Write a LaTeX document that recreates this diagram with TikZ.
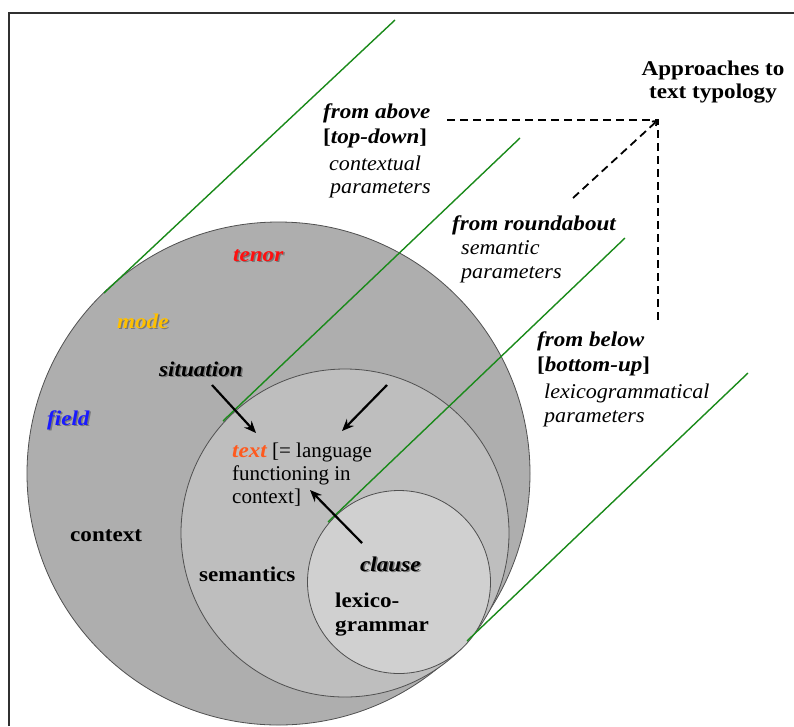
\documentclass[tikz,border=0pt]{standalone}
\usepackage{fontspec}
\setmainfont{Liberation Serif}[BoldFeatures={FakeStretch=1.1},ItalicFeatures={FakeStretch=1.05},BoldItalicFeatures={FakeStretch=1.1}]
\usetikzlibrary{arrows.meta}
\definecolor{ctxgray}{HTML}{AEAEAE}
\definecolor{semgray}{HTML}{BEBEBE}
\definecolor{lexgray}{HTML}{D0D0D0}
\definecolor{rimgray}{HTML}{505050}
\definecolor{tangreen}{HTML}{1A8A1A}
\definecolor{shadowgray}{HTML}{787878}
\definecolor{tenorred}{HTML}{FF1010}
\definecolor{modegold}{HTML}{FFC000}
\definecolor{fieldblue}{HTML}{1A1AFF}
\definecolor{textorange}{HTML}{FF5A1E}
\definecolor{framecol}{HTML}{303030}
\newcommand\fsz{\fontsize{21}{24}\selectfont}
\newcommand\shtext[5]{%
  \node[lbl,text=shadowgray,font=\fsz\bfseries\itshape] at ([xshift=1.5pt,yshift=-1.5pt]#1) {#3};
  \node[lbl,text=#2,font=\fsz\bfseries\itshape] (#4) at (#1) {#3};}
\begin{document}
\begin{tikzpicture}[x=1pt,y=-1pt,
  lbl/.style={inner sep=0pt,anchor=base west,font=\fsz},
  disc/.style={draw=rimgray,line width=0.8pt},
  tanline/.style={draw=tangreen,line width=1.4pt},
  pointer/.style={draw=black,line width=2.2pt,-{Stealth[length=12pt,width=10pt,inset=4pt]}},
  dashline/.style={draw=black,line width=1.8pt,dash pattern=on 8pt off 5pt}]
\useasboundingbox (0,0) rectangle (794,726);
\fill[white] (0,0) rectangle (794,726);
% discs
\filldraw[disc,fill=ctxgray] (278.5,473.5) circle[radius=251.5pt];
\filldraw[disc,fill=semgray] (345,533) circle[radius=164pt];
\filldraw[disc,fill=lexgray] (399,582) circle[radius=91.5pt];
% tangent lines
\coordinate (g1a) at (104,293); \coordinate (g1b) at (395,20);
\coordinate (g2a) at (223,421); \coordinate (g2b) at (520,138);
\coordinate (g3a) at (328,522); \coordinate (g3b) at (625,238);
\coordinate (g4a) at (467,641); \coordinate (g4b) at (748,373);
\draw[tanline] (g1a) -- (g1b);
\draw[tanline] (g2a) -- (g2b);
\draw[tanline] (g3a) -- (g3b);
\draw[tanline] (g4a) -- (g4b);
% frame
\draw[framecol,line width=1.5pt] (9,726) -- (9,13) -- (794,13);
% title
\node[lbl,anchor=base,font=\fsz\bfseries] (ap1) at (713,75) {Approaches to};
\node[lbl,anchor=base,font=\fsz\bfseries] (ap2) at (713,98) {text typology};
% from above
\node[lbl,font=\fsz\bfseries\itshape] (fa1) at (323,118) {from above};
\node[lbl,font=\fsz\bfseries] (fa2) at (323,143) {[\textit{top-down}]};
\node[lbl,font=\fsz\itshape] (fa3) at (329,170) {contextual};
\node[lbl,font=\fsz\itshape] (fa4) at (330,193) {parameters};
% from roundabout
\node[lbl,font=\fsz\bfseries\itshape] (fr1) at (452,230) {from roundabout};
\node[lbl,font=\fsz\itshape] (fr2) at (461,254) {semantic};
\node[lbl,font=\fsz\itshape] (fr3) at (461,278) {parameters};
% from below
\node[lbl,font=\fsz\bfseries\itshape] (fb1) at (537,346) {from below};
\node[lbl,font=\fsz\bfseries] (fb2) at (537,371) {[\textit{bottom-up}]};
\node[lbl,font=\fsz\itshape] (fb3) at (544,398) {lexicogrammatical};
\node[lbl,font=\fsz\itshape] (fb4) at (544,422) {parameters};
% labels in discs
\shtext{233,261}{tenorred}{tenor}{tenor}{}
\shtext{117,328}{modegold}{mode}{mode}{}
\shtext{159,376}{black}{situation}{situation}{}
\shtext{47,425}{fieldblue}{field}{field}{}
\shtext{360,571}{black}{clause}{clause}{}
\node[lbl,font=\fsz\bfseries] (context) at (70,541) {context};
\node[lbl] (txt1) at (232,457) {\textcolor{textorange}{\bfseries\itshape text} [= language};
\node[lbl] (txt2) at (232,480) {functioning in};
\node[lbl] (txt3) at (232,503) {context]};
\node[lbl,font=\fsz\bfseries] (sem) at (199,581) {semantics};
\node[lbl,font=\fsz\bfseries] (lex1) at (335,607) {lexico-};
\node[lbl,font=\fsz\bfseries] (lex2) at (335,631) {grammar};
% arrows
\coordinate (a1s) at (212,385); \coordinate (a1e) at (256,433);
\coordinate (a2s) at (387,385); \coordinate (a2e) at (342,431);
\coordinate (a3s) at (362,543); \coordinate (a3e) at (310,490);
\draw[pointer] (a1s) -- (a1e);
\draw[pointer] (a2s) -- (a2e);
\draw[pointer] (a3s) -- (a3e);
% dashed approach lines
\coordinate (dA) at (447,120);
\coordinate (dC) at (658,120);
\coordinate (dB) at (658,323);
\coordinate (dD) at (573,198);
\draw[dashline] (dA) -- (dC) -- (dB);
\draw[dashline,-{Straight Barb[length=4pt,width=6pt]}] (dD) -- (dC);
\end{tikzpicture}
\end{document}
